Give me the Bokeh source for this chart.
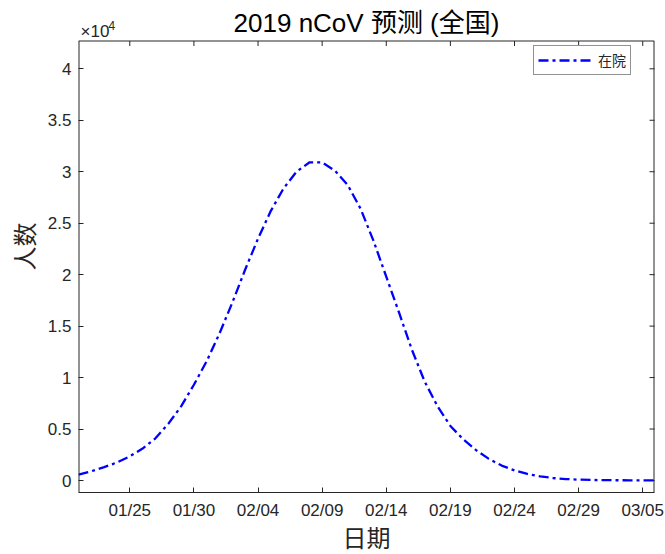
import pandas as pd
from datetime import datetime
from bokeh.plotting import figure
from bokeh.models import (ColumnDataSource, Range1d, FixedTicker, DatetimeTickFormatter,
                          Legend, LegendItem, Label)
from bokeh.embed import file_html
from bokeh.resources import INLINE

start_date = "2020-01-21"
in_hospital = [580, 900, 1300, 1750, 2350, 3100, 4100, 5500, 7200, 9300,
               11600, 14300, 17300, 20500, 23500, 26200, 28400, 30000, 30900, 30900,
               30100, 28700, 26400, 23300, 19800, 16300, 12700, 9600, 7200, 5300,
               4000, 2950, 2100, 1450, 980, 640, 400, 240, 140, 85,
               55, 35, 25, 20, 20, 20]
dates = pd.date_range(start_date, periods=len(in_hospital), freq="D")
tick_dates = ["2020-01-25", "2020-01-30", "2020-02-04", "2020-02-09", "2020-02-14",
              "2020-02-19", "2020-02-24", "2020-02-29", "2020-03-05"]
y_ticks = [0, 5000, 10000, 15000, 20000, 25000, 30000, 35000, 40000]
y_tick_labels = ["0", "0.5", "1", "1.5", "2", "2.5", "3", "3.5", "4"]
title_text = "2019 nCoV 预测 (全国)"
x_label = "日期"
y_label = "人数"
series_name = "在院"

AX = "#262626"
TICK_FONT = "Liberation Sans"
MIXED = "Liberation Sans, Noto Sans CJK SC"

W, H = 665, 554
B_LEFT, B_RIGHT, B_BOTTOM = 78, 11, 62
FRAME_H = H - B_BOTTOM
FRAME_W = W - B_LEFT - B_RIGHT
ZERO_PX = 480.0           # y pixel of value 0, measured from the frame top (= page top)
PX_PER_UNIT = 411.7 / 40000
y0 = -(FRAME_H - ZERO_PX) / PX_PER_UNIT
y_frame_top = ZERO_PX / PX_PER_UNIT
y_box_top = 42700
units_per_px = 1 / PX_PER_UNIT

x0 = datetime(2020, 1, 21)
x1 = datetime(2020, 3, 5, 22)

src = ColumnDataSource(dict(x=dates, y=in_hospital))

p = figure(x_axis_type="datetime", output_backend="svg", toolbar_location=None,
           title=None, width=W, height=H,
           min_border_left=B_LEFT, min_border_right=B_RIGHT, min_border_top=0,
           min_border_bottom=B_BOTTOM,
           x_range=Range1d(x0, x1), y_range=Range1d(y0, y_frame_top),
           background_fill_color="white", border_fill_color="white")

p.grid.visible = False
p.outline_line_color = None

tick_ms = [pd.Timestamp(d).value // 10**6 for d in tick_dates]
fmt = DatetimeTickFormatter(days="%m/%d", months="%m/%d", hours="%m/%d", years="%m/%d")

def style_axis(ax):
    ax.axis_line_color = AX
    ax.major_tick_line_color = AX
    ax.major_tick_in = 5
    ax.major_tick_out = 0
    ax.minor_tick_line_color = None
    ax.major_label_text_font = TICK_FONT
    ax.major_label_text_font_size = "17px"
    ax.major_label_text_color = AX
    ax.axis_label_text_font = MIXED
    ax.axis_label_text_font_size = "24px"
    ax.axis_label_text_font_style = "normal"
    ax.axis_label_text_color = AX

xa = p.xaxis[0]
xa.ticker = FixedTicker(ticks=tick_ms)
xa.formatter = fmt
xa.axis_label = x_label
style_axis(xa)
xa.major_label_standoff = 8
xa.axis_label_standoff = 2

ya = p.yaxis[0]
ya.ticker = FixedTicker(ticks=y_ticks)
ya.major_label_overrides = {t: l for t, l in zip(y_ticks, y_tick_labels)}
ya.axis_label = y_label
style_axis(ya)
ya.axis_line_color = None
ya.major_label_standoff = 7
ya.axis_label_standoff = 6

# axes box: left, top and right edges (bottom edge is the x axis line)
p.line(x=[x0, x0], y=[y0, y_box_top], line_color=AX, line_width=2)
p.line(x=[x1, x1], y=[y0, y_box_top], line_color=AX, line_width=2)
p.line(x=[x0, x1], y=[y_box_top, y_box_top], line_color=AX, line_width=1)

# mirrored inward ticks on the top and right edges
tick_len = 5 * units_per_px
p.segment(x0=tick_ms, y0=[y_box_top] * len(tick_ms), x1=tick_ms,
          y1=[y_box_top - tick_len] * len(tick_ms), line_color=AX, line_width=1)
p.scatter(x=[x1] * len(y_ticks), y=y_ticks, marker="dash", size=10,
          line_color=AX, line_width=1)

r = p.line("x", "y", source=src, line_color="#0000ff", line_width=2.3, line_dash="10 4 3 4")

legend = Legend(items=[LegendItem(label=series_name, renderers=[r])],
                location=(455, FRAME_H - 75))
legend.label_text_font = MIXED
legend.label_text_font_size = "14px"
legend.label_text_color = AX
legend.border_line_color = AX
legend.border_line_width = 1
legend.padding = 4
legend.spacing = 0
legend.margin = 0
legend.glyph_width = 54
legend.glyph_height = 14
legend.label_height = 14
legend.label_standoff = 6
legend.background_fill_color = "white"
legend.background_fill_alpha = 1
p.add_layout(legend, "center")

# title and the "x10^4" exponent marker, anchored to the top of the frame
p.add_layout(Label(x=FRAME_W / 2, x_units="screen", y=y_frame_top, y_offset=-22,
                   text=title_text, text_align="center", text_baseline="middle",
                   text_font=MIXED, text_font_size="26px", text_color="black"))
p.add_layout(Label(x=x0, x_offset=2, y=y_frame_top, y_offset=-31, text="×10",
                   text_font=TICK_FONT, text_font_size="17px", text_color=AX,
                   text_baseline="alphabetic"))
p.add_layout(Label(x=x0, x_offset=30, y=y_frame_top, y_offset=-25, text="4",
                   text_font=TICK_FONT, text_font_size="12px", text_color=AX,
                   text_baseline="alphabetic"))

open("out.html", "w").write(file_html(p, INLINE))
